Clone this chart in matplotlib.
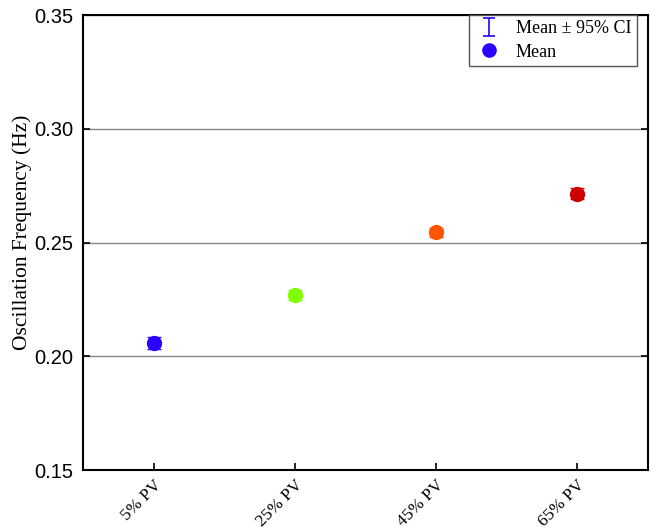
import matplotlib.pyplot as plt
from matplotlib.container import ErrorbarContainer
from matplotlib.legend_handler import HandlerErrorbar

# data
groups = ['5% PV', '25% PV', '45% PV', '65% PV']
means = [0.2058, 0.2270, 0.2546, 0.2715]
ci = [0.0025, 0.0022, 0.0020, 0.0025]
colors = ['#2a00ff', '#80ff00', '#ff5500', '#cc0000']

fig = plt.figure(figsize=(6.56, 5.29), dpi=100)
ax = fig.add_axes([0.1265, 0.1115, 0.8613, 0.8601])

x = list(range(len(groups)))
for i in x:
    ax.errorbar(x[i], means[i], yerr=ci[i], fmt='o', color=colors[i],
                markersize=10, capsize=5, elinewidth=1, capthick=1, zorder=3)

# legend proxies
err_handle = ax.errorbar([float('nan')], [float('nan')], yerr=[0.01],
                         fmt='none', color='#2a00ff', capsize=4,
                         elinewidth=1.2, capthick=1.2)
mean_handle, = ax.plot([], [], 'o', color='#2a00ff', markersize=9.5)

ax.set_xlim(-0.5, 3.5)
ax.set_ylim(0.15, 0.35)
ax.set_yticks([0.15, 0.20, 0.25, 0.30, 0.35])
ax.set_yticklabels(['0.15', '0.20', '0.25', '0.30', '0.35'],
                   fontname='Liberation Sans', fontsize=14.5)
ax.set_xticks(x)
ax.set_xticklabels(groups, rotation=45, ha='right', rotation_mode='anchor',
                   fontname='Liberation Serif', fontsize=12.5)
ax.tick_params(direction='in', length=5, width=1.2, top=False, right=True)
ax.tick_params(axis='x', pad=5)
ax.tick_params(axis='y', pad=7)
ax.set_ylabel('Oscillation Frequency (Hz)', fontname='Liberation Serif',
              fontsize=15.5)
ax.yaxis.set_label_coords(-0.09, 0.523)
ax.yaxis.grid(True, color='#888888', linewidth=1)
ax.set_axisbelow(True)
for s in ax.spines.values():
    s.set_linewidth(1.5)

leg = ax.legend([err_handle, mean_handle], ['Mean ± 95% CI', 'Mean'],
                loc='upper right', bbox_to_anchor=(0.98, 1.0), fancybox=False,
                framealpha=1, edgecolor='#555555', borderaxespad=0,
                prop={'family': 'Liberation Serif', 'size': 13},
                handlelength=1.6, handletextpad=0.7, borderpad=0.3,
                labelspacing=0.35,
                handler_map={ErrorbarContainer: HandlerErrorbar(yerr_size=0.48)})
leg.get_frame().set_linewidth(1)

fig.savefig('out.png', dpi=100)
